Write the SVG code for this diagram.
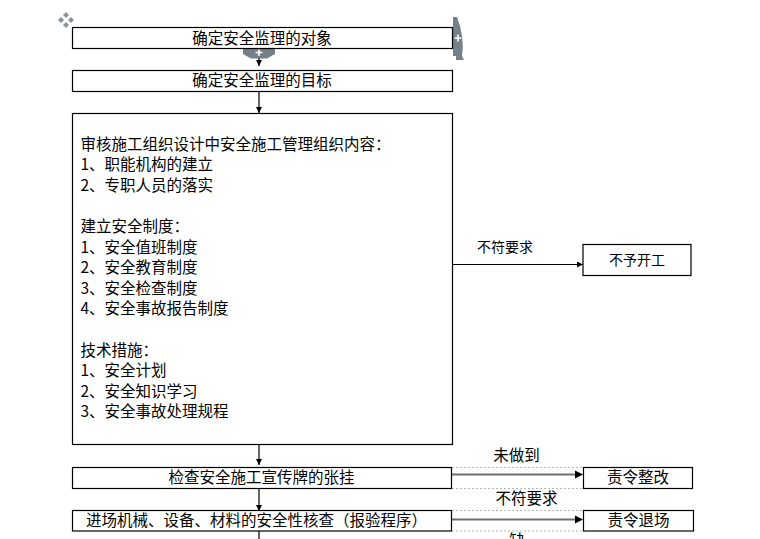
<svg xmlns="http://www.w3.org/2000/svg" width="760" height="539" viewBox="0 0 760 539">
  <style>
    .box { fill: #ffffff; stroke: #000000; stroke-width: 1.2; }
    .t { font-family: "Noto Sans CJK SC", "Liberation Sans", sans-serif; font-size: 15.5px; fill: #000000; }
    .c { text-anchor: middle; }
    .s { font-size: 14px; }
    .line { stroke: #000000; stroke-width: 1.2; fill: none; }
    .gline { stroke: #6e6e6e; stroke-width: 2; fill: none; }
    .dash { stroke: #b8b8b8; stroke-width: 1; stroke-dasharray: 2 2; fill: none; }
    .grey { fill: #76808a; }
    .plus { stroke: #ffffff; stroke-width: 1.6; }
  </style>
  <defs>
    <marker id="arr" viewBox="0 0 10 10" refX="10" refY="5" markerWidth="8" markerHeight="6" markerUnits="userSpaceOnUse" orient="auto">
      <path d="M0,0 L10,5 L0,10 Z" fill="#000000"/>
    </marker>
  </defs>
  <rect width="760" height="539" fill="#ffffff"/>

  <!-- editor handles -->
  <g id="handles">
    <g fill="#8a939c">
      <path d="M66,12 L69,15 L66,18 L63,15 Z"/>
      <path d="M66,22 L69,25 L66,28 L63,25 Z"/>
      <path d="M61,17 L64,20 L61,23 L58,20 Z"/>
      <path d="M71,17 L74,20 L71,23 L68,20 Z"/>
    </g>
    <path class="grey" d="M243,48.5 L275,48.5 L275,54 L267,58.5 L251,58.5 L243,54 Z"/>
    <path class="plus" d="M255.5,52.5 L262.5,52.5 M259,49.5 L259,56"/>
    <path class="grey" d="M453,17 L457,17 Q465,38 462,56 L464,60 L456,60 L456,56 L453,56 Z"/>
    <path class="plus" d="M454.5,38 L461.5,38 M458,34.5 L458,41.5"/>
  </g>

  <!-- connectors -->
  <g id="connectors">
    <path class="line" d="M259,58 L259,66" marker-end="url(#arr)"/>
    <path class="line" d="M259,91 L259,113" marker-end="url(#arr)"/>
    <path class="line" d="M452,264.5 L583,264.5" marker-end="url(#arr)"/>
    <path class="line" d="M259,444 L259,465" marker-end="url(#arr)"/>
    <path class="line" d="M259,488 L259,511" marker-end="url(#arr)"/>
    <path class="line" d="M259,531 L259,539"/>
    <path class="dash" d="M452,467.5 L583,467.5 M452,488.5 L583,488.5"/>
    <path class="gline" d="M452,474.5 L578,474.5"/>
    <path d="M575,470.5 L583,474.5 L575,478.5 Z" fill="#000"/>
    <path class="dash" d="M452,510.5 L583,510.5 M452,531 L583,531"/>
    <path class="gline" d="M452,519.5 L578,519.5"/>
    <path d="M575,515.5 L583,519.5 L575,523.5 Z" fill="#000"/>
    <text class="t s c" x="505" y="252">不符要求</text>
    <text class="t c" x="516.5" y="460.5">未做到</text>
    <text class="t c" x="526.5" y="503.5">不符要求</text>
    <text class="t c" x="517" y="546">缺</text>
  </g>

  <g id="n1">
    <rect class="box" x="72.5" y="27.5" width="380" height="21"/>
    <text class="t c" x="262" y="43.5">确定安全监理的对象</text>
  </g>
  <g id="n2">
    <rect class="box" x="72.5" y="70.5" width="380" height="21"/>
    <text class="t c" x="262" y="86">确定安全监理的目标</text>
  </g>
  <g id="n3">
    <rect class="box" x="72.5" y="113.5" width="380" height="331"/>
    <text class="t" x="80.5" y="149.5">审核施工组织设计中安全施工管理组织内容：</text>
    <text class="t" x="80.5" y="170">1、职能机构的建立</text>
    <text class="t" x="80.5" y="190.5">2、专职人员的落实</text>
    <text class="t" x="80.5" y="232">建立安全制度：</text>
    <text class="t" x="80.5" y="252.5">1、安全值班制度</text>
    <text class="t" x="80.5" y="273">2、安全教育制度</text>
    <text class="t" x="80.5" y="293.5">3、安全检查制度</text>
    <text class="t" x="80.5" y="314">4、安全事故报告制度</text>
    <text class="t" x="80.5" y="355.5">技术措施：</text>
    <text class="t" x="80.5" y="376">1、安全计划</text>
    <text class="t" x="80.5" y="396.5">2、安全知识学习</text>
    <text class="t" x="80.5" y="417">3、安全事故处理规程</text>
  </g>
  <g id="n4">
    <rect class="box" x="583" y="244.5" width="108" height="31"/>
    <text class="t s c" x="637" y="265">不予开工</text>
  </g>
  <g id="n5">
    <rect class="box" x="72.5" y="467.5" width="379" height="21"/>
    <text class="t c" x="261.5" y="483">检查安全施工宣传牌的张挂</text>
  </g>
  <g id="n6">
    <rect class="box" x="583.5" y="467.5" width="109" height="21"/>
    <text class="t c" x="638" y="483">责令整改</text>
  </g>
  <g id="n7">
    <rect class="box" x="72.5" y="510.5" width="379" height="20.5"/>
    <text class="t" x="86" y="526">进场机械、设备、材料的安全性核查（报验程序）</text>
  </g>
  <g id="n8">
    <rect class="box" x="583.5" y="510.5" width="110" height="20.5"/>
    <text class="t c" x="638.5" y="526">责令退场</text>
  </g>
</svg>
